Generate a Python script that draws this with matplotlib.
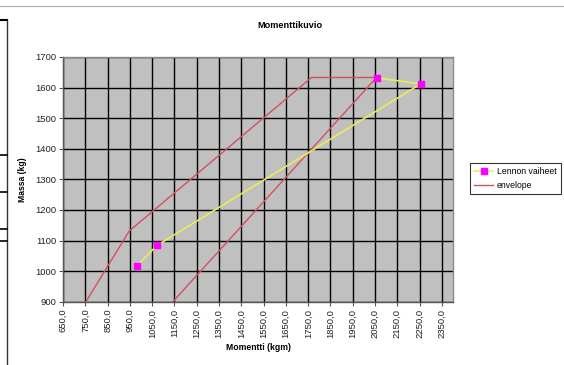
import matplotlib
matplotlib.use("Agg")
import matplotlib.pyplot as plt
from matplotlib.lines import Line2D

plt.rcParams["font.family"] = ["Liberation Sans", "DejaVu Sans"]

# Flight phases (moment kgm, mass kg)
phase_moment = [982, 1072, 2255, 2057]
phase_mass = [1018, 1084, 1612, 1632]

# Weight & balance envelope
env_moment = [753, 947, 1765, 2057, 1143]
env_mass = [900, 1131, 1633, 1633, 900]

x_ticks = list(range(650, 2351, 100))
y_ticks = list(range(900, 1701, 100))

fig = plt.figure(figsize=(5.64, 3.65), dpi=100)
fig.patch.set_facecolor("white")
ax = fig.add_axes([63 / 564, 1 - 301.7 / 365, (453 - 63) / 564, (301.7 - 57) / 365])
ax.set_facecolor("#c0c0c0")

ax.set_xlim(650, 2400)
ax.set_ylim(900, 1700)
ax.set_xticks(x_ticks)
ax.set_yticks(y_ticks)
ax.set_xticklabels([f"{v},0" for v in x_ticks], rotation=90, fontsize=6.8, color="#222222")
ax.set_yticklabels([str(v) for v in y_ticks], fontsize=6.8, color="#222222")
ax.tick_params(axis="both", direction="out", length=3, width=0.8, color="#555555", pad=2)

ax.grid(True, color="black", linewidth=1.0)
ax.set_axisbelow(True)
for side in ["top", "right"]:
    ax.spines[side].set_color("#8a8a8a")
    ax.spines[side].set_linewidth(1.0)
for side in ["left", "bottom"]:
    ax.spines[side].set_color("#555555")
    ax.spines[side].set_linewidth(1.0)

ax.plot(env_moment, env_mass, color="#d4505e", linewidth=1.0, label="envelope", zorder=3)
ax.plot(phase_moment, phase_mass, color="#ecec5a", linewidth=1.2, marker="s",
        markersize=5, markerfacecolor="#ff00ff", markeredgecolor="#ff00ff",
        label="Lennon vaiheet", zorder=4)

fig.text(290 / 564, 1 - 25 / 365, "Momenttikuvio", fontsize=6.6, fontweight="bold",
         ha="center", va="center")
ax.set_xlabel("Momentti (kgm)", fontsize=6.2, fontweight="bold", labelpad=4)
ax.set_ylabel("Massa (kg)", fontsize=6.2, fontweight="bold", labelpad=6)

handles = [
    Line2D([], [], color="#ecec5a", linewidth=1.2, marker="s", markersize=5,
           markerfacecolor="#ff00ff", markeredgecolor="#ff00ff"),
    Line2D([], [], color="#d4505e", linewidth=1.0),
]
leg = fig.legend(handles, ["Lennon vaiheet", "envelope"], loc="upper left",
                 bbox_to_anchor=(470 / 564, 1 - 163 / 365), fontsize=6.2,
                 frameon=True, fancybox=False, borderpad=0.5, handlelength=2.2,
                 handletextpad=0.4, labelspacing=0.5, borderaxespad=0)
leg.get_frame().set_edgecolor("black")
leg.get_frame().set_linewidth(0.8)

# spreadsheet edges around the embedded chart
fig.add_artist(Line2D([7 / 564, 7 / 564], [0, 1 - 20 / 365], color="#333333", linewidth=1.0))
fig.add_artist(Line2D([0, 1], [1 - 6 / 365, 1 - 6 / 365], color="#aaaaaa", linewidth=0.8))
fig.add_artist(Line2D([0, 7 / 564], [1 - 20 / 365, 1 - 20 / 365], color="black", linewidth=1.5))
for yy in [155, 192, 229, 241]:
    fig.add_artist(Line2D([0, 7 / 564], [1 - yy / 365, 1 - yy / 365], color="black", linewidth=1.2))

fig.savefig("out.png", dpi=100)
